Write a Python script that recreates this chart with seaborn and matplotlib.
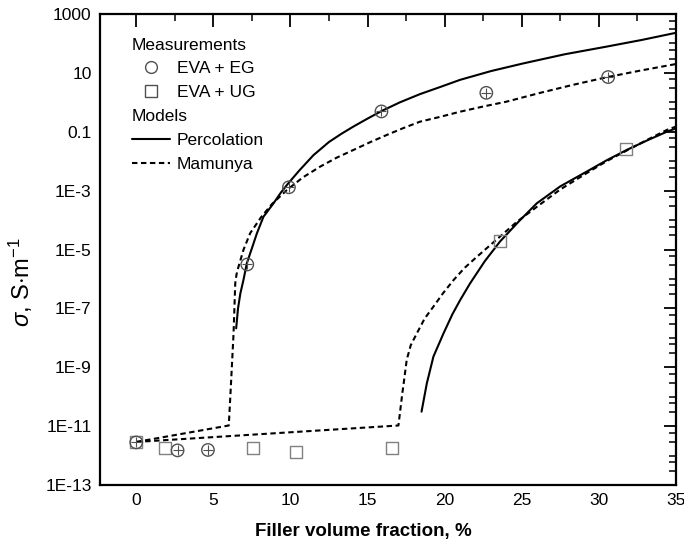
import numpy as np
import pandas as pd
import matplotlib
matplotlib.use("Agg")
import matplotlib.pyplot as plt
import seaborn as sns
from matplotlib.lines import Line2D
from matplotlib.ticker import LogLocator, NullFormatter, MultipleLocator

# ---------------- data ----------------
eg_x = [0, 2.68, 4.65, 7.2, 9.9, 15.9, 22.7, 30.6]
eg_s = [2.8e-12, 1.5e-12, 1.55e-12, 3.1e-6, 1.3e-3, 0.49, 2.1, 7.2]

ug_x = [0, 1.88, 7.56, 10.39, 16.59, 23.6, 31.75]
ug_s = [2.8e-12, 1.8e-12, 1.85e-12, 1.35e-12, 1.85e-12, 1.9e-5, 0.025]

perc_eg_x = [6.48, 6.6, 6.75, 6.95, 7.17, 7.5, 7.82, 8.25, 8.9, 9.4, 9.87, 10.6, 11.49, 12.5,
             13.3, 14.08, 15.0, 15.92, 17.1, 18.4, 19.7, 21.0, 23.0, 25.1, 27.8, 30.5, 32.8, 35.0]
perc_eg_s = [2.1e-8, 1e-7, 3.2e-7, 9.1e-7, 3.4e-6, 1.1e-5, 3.5e-5, 1.3e-4, 3.7e-4, 8.9e-4, 1.8e-3,
             5.0e-3, 0.016, 0.045, 0.085, 0.15, 0.28, 0.51, 1.0, 1.9, 3.3, 5.8, 11.5, 21, 43, 78,
             132, 230]

mam_eg_x = [0, 6.0, 6.1, 6.2, 6.31, 6.42, 6.5, 6.63, 6.96, 7.39, 8.1, 8.8, 9.77, 10.8, 11.92,
            13.0, 14.08, 15.2, 16.25, 17.3, 18.4, 19.7, 21.0, 22.5, 24.0, 26.2, 28.3, 30.5, 32.7, 35.0]
mam_eg_s = [2.9e-12, 1.05e-11, 1e-10, 1.05e-9, 1.4e-8, 7.2e-7, 1.4e-6, 2.6e-6, 1e-5, 3.6e-5,
            1.26e-4, 3.5e-4, 1.05e-3, 2.8e-3, 6.5e-3, 0.0132, 0.024, 0.045, 0.078, 0.132, 0.22,
            0.32, 0.48, 0.72, 1.05, 2.1, 3.9, 7.1, 12, 20]

perc_ug_x = [18.5, 18.84, 19.27, 19.92, 20.5, 21.0, 21.65, 22.6, 23.6, 24.8, 25.97, 27.5, 29.2,
             30.5, 31.8, 33.1, 34.4, 35.0]
perc_ug_s = [3.1e-11, 2.8e-10, 2.3e-9, 1.4e-8, 6.3e-8, 1.9e-7, 7.1e-7, 4.0e-6, 1.9e-5, 8.9e-5,
             3.7e-4, 1.4e-3, 4.4e-3, 0.0107, 0.024, 0.05, 0.1, 0.13]

mam_ug_x = [0, 17.0, 17.1, 17.25, 17.37, 17.54, 17.8, 18.19, 18.7, 19.27, 19.9, 20.57, 21.3,
            22.08, 23.5, 24.7, 25.97, 27.5, 29.2, 30.5, 31.8, 33.1, 34.4, 35.0]
mam_ug_s = [2.9e-12, 1.05e-11, 2.8e-11, 1.26e-10, 3.7e-10, 1.8e-9, 5.6e-9, 1.4e-8, 4.5e-8,
            1.15e-7, 3.3e-7, 9.1e-7, 2.4e-6, 5.6e-6, 2.5e-5, 8.9e-5, 2.8e-4, 1.1e-3, 3.9e-3,
            0.01, 0.023, 0.052, 0.115, 0.15]

ytick_vals = [1e3, 1e1, 1e-1, 1e-3, 1e-5, 1e-7, 1e-9, 1e-11, 1e-13]
ytick_labels = ["1000", "10", "0.1", "1E-3", "1E-5", "1E-7", "1E-9", "1E-11", "1E-13"]
xtick_vals = [0, 5, 10, 15, 20, 25, 30, 35]

# ---------------- style ----------------
sns.set_theme(style="white")
plt.rcParams["font.family"] = ["Liberation Sans", "DejaVu Sans"]
plt.rcParams["mathtext.fontset"] = "custom"
plt.rcParams["mathtext.rm"] = "Liberation Sans"
plt.rcParams["mathtext.it"] = "Liberation Sans:italic"
plt.rcParams["text.color"] = "black"
plt.rcParams["axes.labelcolor"] = "black"
plt.rcParams["xtick.color"] = "black"
plt.rcParams["ytick.color"] = "black"

fig = plt.figure(figsize=(6.84, 5.52), dpi=100)
ax = fig.add_axes([100 / 684, 67 / 552, 576 / 684, 471 / 552])

lw = 1.5
dash = (2.6, 1.7)

def curve(x, s, style):
    df = pd.DataFrame({"x": x, "s": s})
    kw = dict(data=df, x="x", y="s", ax=ax, color="black", linewidth=lw,
              sort=False, estimator=None, legend=False, solid_joinstyle="round")
    if style == "dash":
        sns.lineplot(**kw, dashes=False, linestyle=(0, dash))
    else:
        sns.lineplot(**kw)

curve(perc_eg_x, perc_eg_s, "solid")
curve(mam_eg_x, mam_eg_s, "dash")
curve(perc_ug_x, perc_ug_s, "solid")
curve(mam_ug_x, mam_ug_s, "dash")

df_eg = pd.DataFrame({"x": eg_x, "s": eg_s})
df_ug = pd.DataFrame({"x": ug_x, "s": ug_s})
sns.scatterplot(data=df_ug, x="x", y="s", ax=ax, marker="s", s=75,
                facecolor="none", edgecolor="#808080", linewidth=1.0, zorder=5)
sns.scatterplot(data=df_eg, x="x", y="s", ax=ax, marker="o", s=80,
                facecolor="none", edgecolor="#505050", linewidth=1.0, zorder=5)
sns.scatterplot(data=df_eg, x="x", y="s", ax=ax, marker="+", s=60,
                color="#505050", linewidth=0.8, zorder=5)

ax.set_yscale("log")
ax.set_xlim(-2.35, 35)
ax.set_ylim(1e-13, 1e3)

ax.set_xticks(xtick_vals)
ax.set_xticklabels([str(v) for v in xtick_vals])
ax.xaxis.set_minor_locator(MultipleLocator(2.5))
ax.set_yticks(ytick_vals)
ax.set_yticklabels(ytick_labels)
ax.yaxis.set_minor_locator(LogLocator(base=10, subs=(1.0, 3.0, 6.0), numticks=100))
ax.yaxis.set_minor_formatter(NullFormatter())

ax.tick_params(axis="both", which="major", direction="in", length=9, width=1.3,
               labelsize=12.5, top=True, right=True, colors="black", pad=6)
ax.tick_params(axis="both", which="minor", direction="in", length=5, width=1.1,
               top=True, right=True)
for sp in ax.spines.values():
    sp.set_linewidth(1.6)
    sp.set_color("black")
    sp.set_visible(True)

ax.set_xlabel("Filler volume fraction, %", fontsize=13.5, fontweight="bold")
ax.xaxis.set_label_coords(0.458, -0.081)
ax.set_ylabel(r"$\sigma$, S$\cdot$m$^{-1}$", fontsize=17)
ax.yaxis.set_label_coords(-0.113, 0.431)

# ---------------- legend ----------------
blank = Line2D([], [], linestyle="none", marker=None)
h_circ = Line2D([], [], linestyle="none", marker="o", markersize=8.5,
                markerfacecolor="none", markeredgecolor="#505050", markeredgewidth=1.0)
h_sq = Line2D([], [], linestyle="none", marker="s", markersize=8,
              markerfacecolor="none", markeredgecolor="#505050", markeredgewidth=1.0)
h_sol = Line2D([], [], color="black", linewidth=lw)
h_dash = Line2D([], [], color="black", linewidth=lw, linestyle=(0, dash))
handles = [blank, h_circ, h_sq, blank, h_sol, h_dash]
labels = ["Measurements", "EVA + EG", "EVA + UG", "Models", "Percolation", "Mamunya"]
leg = ax.legend(handles, labels, loc="upper left", bbox_to_anchor=(0.043, 0.965),
                frameon=False, fontsize=12.5, handlelength=2.2, handletextpad=0.4,
                labelspacing=0.5, borderaxespad=0)
# shift header rows to the handle column
col = leg._legend_handle_box.get_children()[0]
for i, row in enumerate(col.get_children()):
    if labels[i] in ("Measurements", "Models"):
        row.get_children()[0].width = 0
        row.sep = 0

fig.savefig("out.png", dpi=100)
